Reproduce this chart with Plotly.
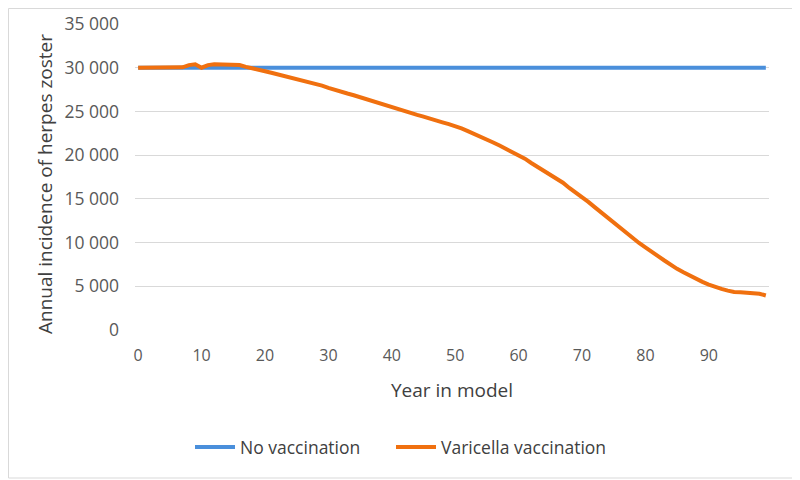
import plotly.graph_objects as go

years = list(range(100))
no_vaccination = [30000] * 100
varicella_vaccination = [
    30000, 30000, 30000, 30000, 30000, 30000, 30000, 30050, 30300, 30400,
    30000, 30300, 30400, 30400, 30400, 30400, 30300, 30100, 29900, 29750,
    29600, 29420, 29250, 29080, 28900, 28730, 28550, 28350, 28150, 27950,
    27700, 27450, 27250, 27050, 26850, 26620, 26400, 26200, 25980, 25700,
    25450, 25200, 25000, 24800, 24600, 24400, 24150, 23950, 23750, 23550,
    23350, 23050, 22750, 22450, 22150, 21800, 21450, 21100, 20750, 20400,
    20000, 19600, 19100, 18650, 18250, 17850, 17350, 16850, 16250, 15750,
    15250, 14650, 14050, 13450, 12850, 12300, 11750, 11050, 10450, 9950,
    9450, 9000, 8450, 7950, 7450, 7000, 6600, 6200, 5800, 5500,
    5200, 4900, 4700, 4500, 4350, 4330, 4250, 4250, 4150, 3950,
]
y_tickvals = [0, 5000, 10000, 15000, 20000, 25000, 30000, 35000]
y_ticktext = ["0", "5 000", "10 000", "15 000", "20 000", "25 000", "30 000", "35 000"]
x_tickvals = [0, 10, 20, 30, 40, 50, 60, 70, 80, 90]

# page has an 8px body offset, so the figure is drawn at 792x472
W, H = 792, 472
ML, MR, MT, MB = 127, 31, 16, 150
FONT = "Open Sans"
TXT = "#404040"
TICK = "#595959"

pw = W - ML - MR
ph = H - MT - MB


def px_x(fx):
    return (fx - ML) / pw


def px_y(fy):
    return 1 - (fy - MT) / ph


fig = go.Figure()
fig.add_trace(go.Scatter(x=years, y=no_vaccination, mode="lines", name="No vaccination",
                         line=dict(color="#4A8FDB", width=4), legend="legend"))
fig.add_trace(go.Scatter(x=years, y=varicella_vaccination, mode="lines", name="Varicella vaccination",
                         line=dict(color="#F0700F", width=4), legend="legend2"))

fig.add_shape(type="rect", xref="paper", yref="paper",
              x0=px_x(0.5), x1=px_x(789),
              y0=px_y(470), y1=px_y(0.5),
              line=dict(color="#D9D9D9", width=1), layer="below")

fig.add_annotation(text="Annual incidence of herpes zoster", textangle=-90,
                   xref="paper", yref="paper", x=px_x(37), y=px_y(176),
                   xanchor="center", yanchor="middle", showarrow=False,
                   font=dict(size=19, color=TXT))
fig.add_annotation(text="Year in model",
                   xref="paper", yref="paper", x=px_x(444), y=px_y(382),
                   xanchor="center", yanchor="middle", showarrow=False,
                   font=dict(size=19, color=TXT))

leg_common = dict(orientation="h", xanchor="left", y=px_y(439), yanchor="middle",
                  font=dict(size=17.5, color=TXT), itemwidth=40, bgcolor="rgba(0,0,0,0)")

fig.update_layout(
    width=W, height=H,
    margin=dict(l=ML, r=MR, t=MT, b=MB, pad=0),
    paper_bgcolor="white", plot_bgcolor="white",
    font=dict(family=FONT, size=15, color=TXT),
    showlegend=True,
    legend=dict(x=px_x(182), **leg_common),
    legend2=dict(x=px_x(383), **leg_common),
)
fig.update_xaxes(
    range=[-0.5, 99.5], tickvals=x_tickvals, showgrid=False, zeroline=False,
    showline=False, ticks="", ticklabelstandoff=14, automargin=False,
    tickfont=dict(size=16, color=TICK),
)
fig.update_yaxes(
    range=[0, 35000], tickvals=y_tickvals, ticktext=y_ticktext,
    showgrid=True, gridcolor="#D9D9D9", gridwidth=1, zeroline=False,
    showline=False, ticks="", ticklabelstandoff=15, automargin=False,
    tickfont=dict(size=17.5, color=TICK),
)

fig.write_html("out.html")
